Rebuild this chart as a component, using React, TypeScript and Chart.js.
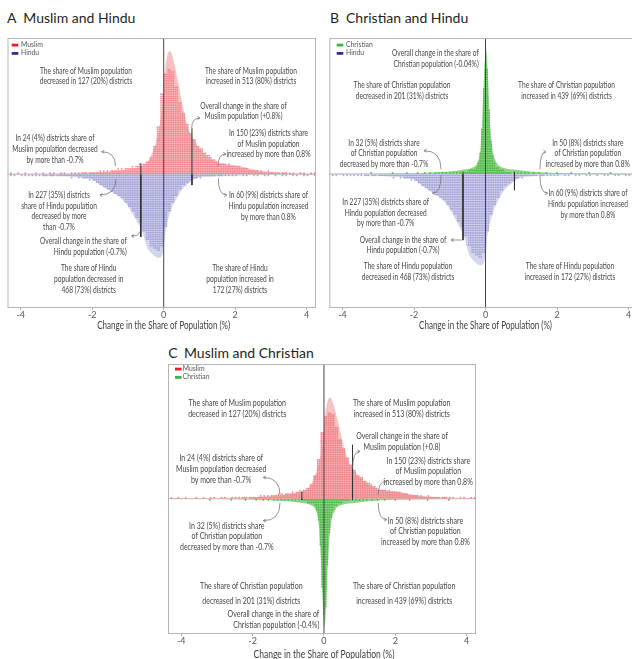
import { useEffect, useRef } from "react";
import { Chart, registerables } from "chart.js";
Chart.register(...registerables);

// ---------------- DATA ----------------
const xTicks = [-4, -2, 0, 2, 4];
const xMin = -4.37;
const xMax = 4.26;

// smoothed densities: [change %, height in dot rows]
const muslimDensity: number[][] = [
  [-4.37, 0.2], [-3.5, 0.3], [-3, 0.4], [-2.5, 0.6], [-2, 0.8], [-1.5, 1.3], [-1.0, 2.2], [-0.8, 2.8],
  [-0.6, 3.9], [-0.45, 5.6], [-0.3, 10.6], [-0.2, 15.7], [-0.1, 23.5], [0, 37], [0.05, 49], [0.1, 54],
  [0.16, 56], [0.22, 55], [0.3, 50], [0.4, 42], [0.5, 33.6], [0.6, 25.8], [0.7, 20.2], [0.85, 15.7],
  [1.0, 11.8], [1.2, 8.4], [1.4, 6.2], [1.6, 5], [1.9, 4.2], [2.2, 3.4], [2.5, 2.2], [3.0, 1.1],
  [3.5, 0.6], [4.26, 0.2],
];
const hinduDensity: number[][] = [
  [-4.37, 0.2], [-3.5, 0.4], [-3.0, 0.8], [-2.5, 1.1], [-2.0, 2.3], [-1.77, 4.9], [-1.5, 7.6],
  [-1.21, 10.6], [-1.0, 14.4], [-0.85, 18.6], [-0.7, 22.8], [-0.6, 26.2], [-0.46, 33.4], [-0.3, 36.5],
  [-0.15, 38], [-0.05, 36.9], [0, 34.2], [0.05, 26.2], [0.1, 22], [0.16, 18.6], [0.25, 14.4],
  [0.37, 10.6], [0.5, 7.2], [0.65, 4.9], [0.93, 1.7], [1.3, 0.95], [2, 0.6], [3, 0.3], [4.26, 0.1],
];
const christianDensity: number[][] = [
  [-4.37, 0], [-2.5, 0.25], [-1.5, 0.7], [-1.0, 1.1], [-0.64, 1.8], [-0.35, 2.8], [-0.22, 5],
  [-0.14, 11], [-0.09, 24], [-0.04, 41], [0.02, 52], [0.07, 40], [0.12, 23], [0.2, 10],
  [0.3, 5], [0.5, 2.6], [0.87, 1.8], [1.25, 1.1], [2, 0.5], [3, 0.25], [4.26, 0],
];

// districts per bin: [bin centre, count]
const muslimCounts: number[][] = [
  [-4.25, 1], [-4.05, 1], [-3.85, 1], [-3.55, 1], [-3.35, 1], [-3.15, 1], [-3.05, 1], [-2.85, 1],
  [-2.75, 1], [-2.55, 1], [-2.45, 1], [-2.35, 1], [-2.25, 2], [-2.15, 1], [-2.05, 2], [-1.95, 2],
  [-1.85, 2], [-1.75, 3], [-1.65, 3], [-1.55, 3], [-1.45, 4], [-1.35, 4], [-1.25, 5], [-1.15, 5],
  [-1.05, 6], [-0.95, 6], [-0.85, 7], [-0.75, 8], [-0.65, 9], [-0.55, 10], [-0.45, 12], [-0.35, 16],
  [-0.25, 26], [-0.15, 44], [-0.05, 74], [0.05, 92], [0.15, 96], [0.25, 94], [0.35, 80], [0.45, 66],
  [0.55, 56], [0.65, 46], [0.75, 38], [0.85, 32], [0.95, 26], [1.05, 24], [1.15, 20], [1.25, 18],
  [1.35, 15], [1.45, 13], [1.55, 10], [1.65, 10], [1.75, 9], [1.85, 9], [1.95, 8], [2.05, 8],
  [2.15, 7], [2.25, 6], [2.35, 5], [2.45, 4], [2.55, 4], [2.65, 3], [2.75, 3], [2.85, 2], [2.95, 3],
  [3.05, 2], [3.15, 2], [3.25, 1], [3.35, 2], [3.45, 1], [3.55, 1], [3.65, 1], [3.85, 1], [3.95, 1],
  [4.15, 1], [4.25, 1],
];
const hinduCounts: number[][] = [
  [-4.25, 1], [-4.15, 1], [-3.95, 1], [-3.85, 1], [-3.75, 1], [-3.65, 1], [-3.55, 1], [-3.45, 1],
  [-3.35, 2], [-3.25, 1], [-3.15, 2], [-3.05, 1], [-2.95, 2], [-2.85, 2], [-2.75, 2], [-2.65, 2],
  [-2.55, 3], [-2.45, 2], [-2.35, 3], [-2.25, 4], [-2.15, 4], [-2.05, 5], [-1.95, 6], [-1.85, 8],
  [-1.75, 10], [-1.65, 12], [-1.55, 14], [-1.45, 16], [-1.35, 18], [-1.25, 20], [-1.15, 22],
  [-1.05, 26], [-0.95, 30], [-0.85, 34], [-0.75, 40], [-0.65, 44], [-0.55, 52], [-0.45, 60],
  [-0.35, 66], [-0.25, 68], [-0.15, 70], [-0.05, 66], [0.05, 48], [0.15, 34], [0.25, 26], [0.35, 20],
  [0.45, 14], [0.55, 10], [0.65, 8], [0.75, 6], [0.85, 4], [0.95, 3], [1.05, 3], [1.15, 2], [1.25, 2],
  [1.35, 2], [1.45, 1], [1.55, 2], [1.65, 1], [1.75, 1], [1.85, 1], [1.95, 1], [2.05, 1], [2.25, 1],
  [2.35, 1], [2.55, 1], [2.65, 1], [2.85, 1], [2.95, 1], [3.15, 1], [3.35, 1], [3.45, 1], [3.65, 1],
  [3.75, 1], [3.95, 1], [4.05, 1], [4.25, 1],
];
const christianCounts: number[][] = [
  [-3.2, 1], [-2.6, 1], [-2.2, 1], [-1.9, 1], [-1.7, 1], [-1.55, 1], [-1.4, 1], [-1.3, 1], [-1.2, 1],
  [-1.1, 1], [-1.0, 1], [-0.9, 1], [-0.8, 1], [-0.7, 1], [-0.6, 1], [-0.55, 1], [-0.5, 1], [-0.45, 2],
  [-0.4, 2], [-0.35, 2], [-0.3, 2], [-0.25, 3], [-0.2, 5], [-0.15, 9], [-0.1, 19], [-0.05, 36],
  [0, 47], [0.05, 44], [0.1, 27], [0.15, 14], [0.2, 8], [0.25, 5], [0.3, 3], [0.35, 3], [0.4, 2],
  [0.45, 2], [0.5, 2], [0.55, 1], [0.6, 1], [0.65, 1], [0.7, 1], [0.8, 1], [0.9, 1], [1.0, 1],
  [1.1, 1], [1.2, 1], [1.35, 1], [1.5, 1], [1.7, 1], [2.0, 1], [2.4, 1], [2.9, 1], [3.5, 1],
];

// overall-change markers: [x, extent above (rows), extent below (rows)]
const meansA: number[][] = [[-0.64, 5.1, 28.5], [0.79, 21, 4.9]];
const meansB: number[][] = [[-0.63, 1, 27.5], [0.81, 1, 6.7]];
const meansC: number[][] = [[-0.62, 4, 0.5], [0.8, 30, 0.5]];

// ---------------- STYLE ----------------
const SERIES: Record<string, any> = {
  Muslim: { density: muslimDensity, counts: muslimCounts, binWidth: 0.1, cols: 2, legend: "#ed1c24", fill: "#f7c0c2", dot: "#ee868c" },
  Hindu: { density: hinduDensity, counts: hinduCounts, binWidth: 0.1, cols: 2, legend: "#2e3192", fill: "#d4d4ed", dot: "#a3a3d9" },
  Christian: { density: christianDensity, counts: christianCounts, binWidth: 0.05, cols: 1, legend: "#39b54a", fill: "#8fd488", dot: "#4cb847" },
};

const TXT_FONT = '"Liberation Sans Narrow", Lato, "DejaVu Sans Condensed", sans-serif';
const TXT_COLOR = "#474747";

type Ann = { lines: string[]; x: number; y: number; lh: number; align?: "center" | "right"; arrow?: number[] };

const panels = [
  {
    letter: "A", title: "Muslim and Hindu", up: "Muslim", down: "Hindu",
    letterX: 7, titleX: 23.3, titleTop: 9.9,
    left: 0, top: 30, w: 322, h: 305, padL: 7.5, padR: 6, padT: 8,
    upRange: [-60.8, 62], downRange: [-62, 60.8], means: meansA,
    legend: [4.2, 13.5, 7], textScale: 1, axisDy: 17.7,
    anns: [
      { lines: ["The share of Muslim population", "decreased in 127 (20%) districts"], x: 78.5, y: 33, lh: 9.7 },
      { lines: ["The share of Muslim population", "increased in 513 (80%) districts"], x: 243.5, y: 33, lh: 9.7 },
      { lines: ["Overall change in the share of", "Muslim population (+0.8%)"], x: 236, y: 68, lh: 10, arrow: [192.5, 80, 184.2, 90] },
      { lines: ["In 150 (23%) districts share", "of Muslim population", "increased by more than 0.8%"], x: 261, y: 95, lh: 10.5, arrow: [218.5, 116, 210.5, 128] },
      { lines: ["In 24 (4%) districts share of", "Muslim population decreased", "by more than -0.7%"], x: 47.5, y: 100, lh: 11, arrow: [94.2, 113.7, 108, 128] },
      { lines: ["In 227 (35%) districts", "share of Hindu population", "decreased by more", "than -0.7%"], x: 51.5, y: 157, lh: 10.6, arrow: [92.5, 157, 108.5, 141] },
      { lines: ["Overall change in the share of", "Hindu population (-0.7%)"], x: 119.2, y: 203, lh: 10.7, align: "right", arrow: [124.2, 198, 132, 193.7] },
      { lines: ["In 60 (9%) districts share of", "Hindu population increased", "by more than 0.8%"], x: 261, y: 157, lh: 10.8, arrow: [219.2, 157, 210.8, 140.3] },
      { lines: ["The share of Hindu", "population decreased in", "468 (73%) districts"], x: 81.2, y: 230.3, lh: 10.8 },
      { lines: ["The share of Hindu", "population increased in", "172 (27%) districts"], x: 232.5, y: 230.3, lh: 10.8 },
    ] as Ann[],
  },
  {
    letter: "B", title: "Christian and Hindu", up: "Christian", down: "Hindu",
    letterX: 330, titleX: 346, titleTop: 9.9,
    left: 322, top: 30, w: 322, h: 305, padL: 7.3, padR: 6.2, padT: 8,
    upRange: [-55.8, 56.7], downRange: [-56.7, 55.8], means: meansB,
    legend: [7.4, 16.7, 7], textScale: 1, axisDy: 17.7,
    anns: [
      { lines: ["Overall change in the share of", "Christian population (-0.04%)"], x: 149.4, y: 15.3, lh: 10.7, align: "right" },
      { lines: ["The share of Christian population", "decreased in 201 (31%) districts"], x: 72.7, y: 47, lh: 10.7 },
      { lines: ["The share of Christian population", "increased in 439 (69%) districts"], x: 237.2, y: 47, lh: 10.7 },
      { lines: ["In 32 (5%) districts share", "of Christian population", "decreased by more than -0.7%"], x: 54.7, y: 104.7, lh: 10.7, arrow: [94.7, 112.7, 111.7, 131] },
      { lines: ["In 50 (8%) districts share", "of Christian population", "increased by more than 0.8%"], x: 258.5, y: 104.7, lh: 10.7, arrow: [216.7, 113.7, 210.7, 131] },
      { lines: ["In 60 (9%) districts share of", "Hindu population increased", "by more than 0.8%"], x: 258.7, y: 155.3, lh: 10.8, arrow: [218.4, 155.3, 210.7, 138] },
      { lines: ["In 227 (35%) districts share of", "Hindu population decreased", "by more than -0.7%"], x: 56.4, y: 164.3, lh: 10.2, arrow: [103.4, 155.3, 111.7, 137] },
      { lines: ["Overall change in the share of", "Hindu population (-0.7%)"], x: 73.7, y: 202, lh: 10, arrow: [121.7, 202, 133, 202] },
      { lines: ["The share of Hindu population", "decreased in 468 (73%) districts"], x: 78.7, y: 228, lh: 10.7 },
      { lines: ["The share of Hindu population", "increased in 172 (27%) districts"], x: 240.7, y: 228, lh: 10.7 },
    ] as Ann[],
  },
  {
    letter: "C", title: "Muslim and Christian", up: "Muslim", down: "Christian",
    letterX: 168.3, titleX: 184, titleTop: 344.9,
    left: 160, top: 356.3, w: 322, h: 305, padL: 8, padR: 6, padT: 8,
    upRange: [-75.2, 74.8], downRange: [-54.3, 54.6], means: meansC,
    legend: [7, 14.7, 5], textScale: 1.06, axisDy: 20,
    anns: [
      { lines: ["The share of Muslim population", "decreased in 127 (20%) districts"], x: 69.2, y: 38.4, lh: 11.6 },
      { lines: ["The share of Muslim population", "increased in 513 (80%) districts"], x: 233.7, y: 38.4, lh: 11.6 },
      { lines: ["Overall change in the share of", "Muslim population (+0.8)"], x: 234, y: 71.7, lh: 11.3, arrow: [192, 87.4, 184.7, 104] },
      { lines: ["In 150 (23%) districts share", "of Muslim population", "increased by more than 0.8%"], x: 260.3, y: 96.7, lh: 10.4, arrow: [218, 117.4, 210.3, 130.7] },
      { lines: ["In 24 (4%) districts share of", "Muslim population decreased", "by more than -0.7%"], x: 53.2, y: 94, lh: 10.8, arrow: [95.3, 113.4, 112, 130.7] },
      { lines: ["In 32 (5%) districts share", "of Christian population", "decreased by more than -0.7%"], x: 58.8, y: 161.4, lh: 10.8, arrow: [95.3, 156.7, 112, 139] },
      { lines: ["In 50 (8%) districts share", "of Christian population", "increased by more than 0.8%"], x: 257.4, y: 156.4, lh: 10.5, arrow: [218.7, 155.7, 210.3, 139] },
      { lines: ["The share of Christian population", "decreased in 201 (31%) districts"], x: 83.3, y: 221.7, lh: 15 },
      { lines: ["The share of Christian population", "increased in 439 (69%) districts"], x: 236.2, y: 221.7, lh: 15 },
      { lines: ["Overall change in the share of", "Christian population (-0.4%)"], x: 151.3, y: 250, lh: 10.7, align: "right" },
    ] as Ann[],
  },
];

// ---------------- HELPERS ----------------
function dotPoints(counts: number[][], binWidth: number, cols: number) {
  const pts: { x: number; y: number }[] = [];
  for (const [c, n] of counts) {
    for (let i = 0; i < n; i++) {
      const col = i % cols;
      const row = Math.floor(i / cols);
      pts.push({ x: c - binWidth / 2 + ((col + 0.5) * binWidth) / cols, y: row + 0.5 });
    }
  }
  return pts;
}

let textSX = 0;
let titleSX = 0;
function calibrate(ctx: CanvasRenderingContext2D) {
  if (textSX) return;
  ctx.save();
  ctx.font = `9.6px ${TXT_FONT}`;
  textSX = 92 / ctx.measureText("The share of Muslim population").width;
  ctx.font = `11px ${TXT_FONT}`;
  titleSX = 133 / ctx.measureText("Change in the Share of Population (%)").width;
  ctx.restore();
}

function sText(ctx: CanvasRenderingContext2D, s: string, x: number, y: number, align: CanvasTextAlign, sx: number) {
  ctx.save();
  ctx.translate(x, y);
  ctx.scale(sx, 1);
  ctx.textAlign = align;
  ctx.textBaseline = "middle";
  ctx.fillText(s, 0, 0);
  ctx.restore();
}

function arrow(ctx: CanvasRenderingContext2D, x1: number, y1: number, x2: number, y2: number) {
  const cx = x2, cy = y1;
  ctx.beginPath();
  ctx.moveTo(x1, y1);
  ctx.quadraticCurveTo(cx, cy, x2, y2);
  ctx.stroke();
  let ang = Math.atan2(y1 - cy, x1 - cx);
  if (cx === x1 && cy === y1) ang = Math.atan2(y1 - y2, x1 - x2);
  const L = 3;
  ctx.beginPath();
  ctx.moveTo(x1 - L * Math.cos(ang - 0.55), y1 - L * Math.sin(ang - 0.55));
  ctx.lineTo(x1, y1);
  ctx.lineTo(x1 - L * Math.cos(ang + 0.55), y1 - L * Math.sin(ang + 0.55));
  ctx.stroke();
}

function buildConfig(p: any): any {
  const up = SERIES[p.up];
  const down = SERIES[p.down];
  const datasets: any[] = [];
  for (const [s, axis] of [[up, "yUp"], [down, "yDown"]] as any[]) {
    datasets.push({
      type: "line", yAxisID: axis, order: 3,
      data: s.density.map(([x, y]: number[]) => ({ x, y })),
      fill: "origin", backgroundColor: s.fill, borderColor: "rgba(0,0,0,0)", borderWidth: 0,
      pointRadius: 0, cubicInterpolationMode: "monotone",
    });
    datasets.push({
      type: "scatter", yAxisID: axis, order: 2,
      data: dotPoints(s.counts, s.binWidth, s.cols),
      pointRadius: 0.88, pointBorderWidth: 0, pointBackgroundColor: s.dot, backgroundColor: s.dot,
    });
  }
  for (const [x, hu, hd] of p.means) {
    datasets.push({ type: "line", yAxisID: "yUp", order: 0, data: [{ x, y: 0 }, { x, y: hu }], borderColor: "#333", borderWidth: 1, pointRadius: 0, fill: false });
    datasets.push({ type: "line", yAxisID: "yDown", order: 0, data: [{ x, y: 0 }, { x, y: hd }], borderColor: "#333", borderWidth: 1, pointRadius: 0, fill: false });
  }

  const plugin = {
    id: "panelDeco" + p.letter,
    beforeDatasetsDraw(chart: any) {
      const { ctx, chartArea: a, scales } = chart;
      const yb = scales.yUp.getPixelForValue(0);
      ctx.save();
      ctx.strokeStyle = "#9a9a9a";
      ctx.lineWidth = 1;
      ctx.beginPath();
      ctx.moveTo(a.left, yb);
      ctx.lineTo(a.right, yb);
      ctx.stroke();
      ctx.restore();
    },
    afterDatasetsDraw(chart: any) {
      const { ctx, chartArea: a, scales } = chart;
      const x0 = scales.x.getPixelForValue(0);
      ctx.save();
      ctx.strokeStyle = "#444";
      ctx.lineWidth = 1;
      ctx.beginPath();
      ctx.moveTo(x0, a.top);
      ctx.lineTo(x0, a.bottom);
      ctx.stroke();
      ctx.strokeStyle = "#b5b5b5";
      ctx.strokeRect(a.left + 0.5, a.top + 0.5, a.width - 1, a.height - 1);
      ctx.restore();
    },
    afterDraw(chart: any) {
      const { ctx, chartArea: a, scales } = chart;
      calibrate(ctx);
      ctx.save();
      // legend
      const [lx, tx, ly] = p.legend;
      [up, down].forEach((s: any, i: number) => {
        const y = a.top + ly + i * 8.3;
        ctx.fillStyle = s.legend;
        ctx.fillRect(a.left + lx, y - 1.3, 6.6, 2.8);
        ctx.fillStyle = "#555";
        ctx.font = `6.8px Lato, sans-serif`;
        ctx.textAlign = "left";
        ctx.textBaseline = "middle";
        ctx.fillText(i === 0 ? p.up : p.down, a.left + tx, y);
      });
      // annotations
      ctx.fillStyle = TXT_COLOR;
      ctx.font = `${9.6 * p.textScale}px ${TXT_FONT}`;
      for (const an of p.anns as Ann[]) {
        an.lines.forEach((ln, i) => {
          sText(ctx, ln, a.left + an.x, a.top + an.y + i * an.lh, an.align === "right" ? "right" : "center", textSX);
        });
        if (an.arrow) {
          ctx.strokeStyle = "#777";
          ctx.lineWidth = 0.8;
          const [x1, y1, x2, y2] = an.arrow;
          arrow(ctx, a.left + x1, a.top + y1, a.left + x2, a.top + y2);
        }
      }
      // axis title
      ctx.fillStyle = "#3c3c3c";
      ctx.font = `${11 * p.textScale}px ${TXT_FONT}`;
      sText(ctx, "Change in the Share of Population (%)", scales.x.getPixelForValue(0), a.bottom + p.axisDy, "center", titleSX);
      ctx.restore();
    },
  };

  return {
    data: { datasets },
    options: {
      animation: false,
      responsive: false,
      maintainAspectRatio: false,
      events: [],
      layout: { padding: { left: p.padL, right: p.padR, top: p.padT, bottom: 0 } },
      plugins: { legend: { display: false }, tooltip: { enabled: false }, title: { display: false } },
      scales: {
        x: {
          type: "linear", min: xMin, max: xMax,
          afterBuildTicks: (s: any) => { s.ticks = xTicks.map((v) => ({ value: v })); },
          afterFit: (s: any) => { s.height = 27; },
          grid: { display: true, drawOnChartArea: false, drawTicks: true, tickLength: 2, color: "#999", lineWidth: 0.8 },
          border: { display: false },
          ticks: { autoSkip: false, maxRotation: 0, padding: 0, color: "#555", font: { size: 9, family: "Lato" }, callback: (v: any) => String(v) },
        },
        yUp: { type: "linear", display: false, min: p.upRange[0], max: p.upRange[1] },
        yDown: { type: "linear", display: false, reverse: true, min: p.downRange[0], max: p.downRange[1] },
      },
    },
    plugins: [plugin],
  };
}

function Panel({ p }: { p: any }) {
  const ref = useRef<HTMLCanvasElement>(null);
  useEffect(() => {
    const chart = new Chart(ref.current as HTMLCanvasElement, buildConfig(p));
    return () => chart.destroy();
  }, []);
  const tStyle: any = { position: "absolute", top: p.titleTop, font: "14px Lato, sans-serif", lineHeight: "16px", color: "#231f20", whiteSpace: "nowrap" };
  return (
    <>
      <div style={{ ...tStyle, left: p.letterX }}>{p.letter}</div>
      <div style={{ ...tStyle, left: p.titleX }}>{p.title}</div>
      <canvas ref={ref} width={p.w} height={p.h} style={{ position: "absolute", left: p.left, top: p.top, width: p.w, height: p.h }} />
    </>
  );
}

export default function App() {
  return (
    <div style={{ position: "fixed", left: 0, top: 0, width: 632, height: 659, overflow: "hidden", background: "#fff" }}>
      {panels.map((p) => (
        <Panel key={p.letter} p={p} />
      ))}
    </div>
  );
}
